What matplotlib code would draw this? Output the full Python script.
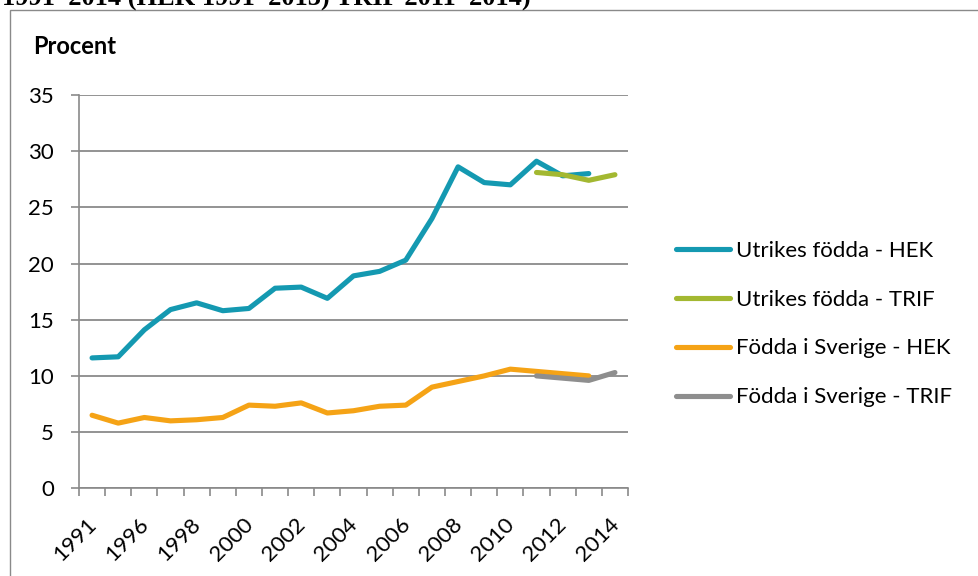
import numpy as np
import matplotlib
matplotlib.use("Agg")
import matplotlib.pyplot as plt
from matplotlib.patches import Rectangle
from matplotlib.transforms import ScaledTranslation

# ---- data ----
categories = ["1991", "1995", "1996", "1997", "1998", "1999", "2000", "2001", "2002",
              "2003", "2004", "2005", "2006", "2007", "2008", "2009", "2010", "2011",
              "2012", "2013", "2014"]
utrikes_hek = [11.6, 11.7, 14.1, 15.9, 16.5, 15.8, 16.0, 17.8, 17.9, 16.9, 18.9,
               19.3, 20.3, 24.0, 28.6, 27.2, 27.0, 29.1, 27.8, 28.0, None]
utrikes_trif = [None] * 17 + [28.1, 27.9, 27.4, 27.9]
sverige_hek = [6.5, 5.8, 6.3, 6.0, 6.1, 6.3, 7.4, 7.3, 7.6, 6.7, 6.9,
               7.3, 7.4, 9.0, 9.5, 10.0, 10.6, 10.4, 10.2, 10.0, None]
sverige_trif = [None] * 17 + [10.0, 9.8, 9.6, 10.3]
series_labels = ["Utrikes födda - HEK", "Utrikes födda - TRIF",
                 "Födda i Sverige - HEK", "Födda i Sverige - TRIF"]
series_colors = ["#1499B1", "#A3B831", "#F5A316", "#8E8E8E"]
y_ticks = [0, 5, 10, 15, 20, 25, 30, 35]
title_text = "1991–2014 (HEK 1991–2013) TRIF 2011–2014)"
y_title = "Procent"

FONT = ["Lato", "DejaVu Sans"]
plt.rcParams["font.family"] = FONT
FS = 16

W, H = 979, 576
fig = plt.figure(figsize=(W / 100, H / 100), dpi=100)

# outer chart frame (partly cut by the image edges)
fig.patches.append(Rectangle((9.5 / W, -0.05), 1.2, 1 - 10 / H + 0.05,
                             transform=fig.transFigure, fill=False,
                             edgecolor="#8a8a8a", linewidth=1.0))

# heading above the chart, cut by the top edge as in the source
fig.text(2 / W, 1 - 6 / H, title_text, family="Liberation Serif",
         fontweight="bold", fontsize=19, va="baseline", ha="left")

ax = fig.add_axes([79 / W, 1 - 488.3 / H, (628 - 79) / W, (488.3 - 94.9) / H])

x = np.arange(len(categories)) + 0.5
def arr(v):
    return np.array([np.nan if a is None else a for a in v], dtype=float)

for vals, lab, col in zip([utrikes_hek, utrikes_trif, sverige_hek, sverige_trif],
                          series_labels, series_colors):
    ax.plot(x, arr(vals), color=col, lw=3.7, label=lab,
            solid_capstyle="round", solid_joinstyle="round")

ax.set_xlim(0, len(categories))
ax.set_ylim(0, 35)
ax.set_yticks(y_ticks)
ax.set_yticklabels([str(v) for v in y_ticks])
ax.yaxis.grid(True, color="#8a8a8a", lw=1.3)
ax.set_axisbelow(True)

# x ticks: boundaries as minor ticks, labels every other category
ax.set_xticks(np.arange(len(categories) + 1), minor=True)
ax.set_xticks(x[::2])
ax.set_xticklabels(categories[::2])
ax.tick_params(axis="x", which="major", length=0, pad=24, labelsize=FS)
ax.tick_params(axis="x", which="minor", length=6, width=1.2, color="#8a8a8a")
ax.tick_params(axis="y", length=6, width=1.2, color="#8a8a8a", pad=12, labelsize=FS)
off = ScaledTranslation(1 / 100, 0, fig.dpi_scale_trans)
for t in ax.get_xticklabels():
    t.set_rotation(45)
    t.set_rotation_mode("anchor")
    t.set_ha("right")
    t.set_va("center")
    t.set_transform(t.get_transform() + off)

for s in ["top", "right"]:
    ax.spines[s].set_visible(False)
for s in ["left", "bottom"]:
    ax.spines[s].set_color("#8a8a8a")
    ax.spines[s].set_linewidth(1.2)

fig.text(33 / W, 1 - 46 / H, y_title, fontweight="bold", fontsize=17,
         va="center", ha="left")

leg = fig.legend(loc="center left", bbox_to_anchor=(676 / W, 1 - 324 / H),
                 frameon=False, fontsize=FS, handlelength=2.45,
                 handletextpad=0.27, labelspacing=1.3, borderpad=0,
                 borderaxespad=0)

fig.savefig("out.png", dpi=100)
